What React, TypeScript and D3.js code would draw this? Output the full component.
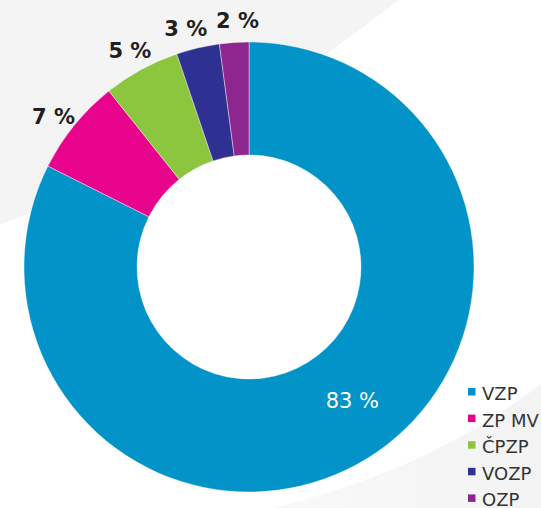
// App.tsx — donut of insurer shares (VZP and the smaller funds), drawn with D3.
import { useEffect, useRef } from "react";
import * as d3 from "d3";

const insurers = ["VZP", "ZP MV", "ČPZP", "VOZP", "OZP"];
const shares = [82.4, 6.9, 5.5, 3.1, 2.1];
const shareLabels = ["83 %", "7 %", "5 %", "3 %", "2 %"];
const colors = ["#0293c9", "#e8038c", "#8cc63f", "#2e3191", "#8d278f"];

export default function App() {
  const ref = useRef<SVGSVGElement | null>(null);

  useEffect(() => {
    const svg = d3.select(ref.current);
    svg.selectAll("*").remove();

    const width = 541;
    const height = 508;
    const cx = 249;
    const cy = 267;
    const outer = 225;
    const inner = 112;
    const font = "'DejaVu Sans', sans-serif";
    const deg = Math.PI / 180;
    // small angular nudges so the outside labels sit where the original has them
    const labelNudge = [-6, -1.4, -0.2, -1.7, 1.1];

    // soft grey background shapes
    const defs = svg.append("defs");
    const g1 = defs.append("linearGradient").attr("id", "bgTop").attr("x1", "0").attr("x2", "1").attr("y1", "0").attr("y2", "0");
    g1.append("stop").attr("offset", "0").attr("stop-color", "#f1f1f1");
    g1.append("stop").attr("offset", "1").attr("stop-color", "#f5f5f5");
    const g2 = defs.append("linearGradient").attr("id", "bgBot").attr("x1", "0").attr("x2", "1").attr("y1", "0").attr("y2", "0");
    g2.append("stop").attr("offset", "0").attr("stop-color", "#f9f9f9");
    g2.append("stop").attr("offset", "1").attr("stop-color", "#f3f3f3");

    svg.append("rect").attr("width", width).attr("height", height).attr("fill", "#fff");
    svg.append("circle").attr("cx", -518).attr("cy", -1162).attr("r", 1480).attr("fill", "url(#bgTop)");
    const wave = d3.path();
    wave.moveTo(273, height);
    wave.quadraticCurveTo(430, 470, width, 384);
    wave.lineTo(width, height);
    wave.closePath();
    svg.append("path").attr("d", wave.toString()).attr("fill", "url(#bgBot)");

    const data = insurers.map((name, i) => ({ name, value: shares[i], label: shareLabels[i], color: colors[i] }));
    const pie = d3.pie<any>().value((d) => d.value).sort(null);
    const arc = d3.arc<any>().innerRadius(inner).outerRadius(outer);
    const arcs = pie(data);
    const mid = (d: any, i: number) => (d.startAngle + d.endAngle) / 2 + labelNudge[i] * deg;

    const g = svg.append("g").attr("transform", `translate(${cx},${cy})`);
    g.selectAll("path").data(arcs).join("path")
      .attr("d", arc).attr("fill", (d) => d.data.color)
      .attr("stroke", "#fff").attr("stroke-width", 0.4);

    // outside labels for the small slices, inside label for the big one
    g.selectAll("text.out").data(arcs.slice(1)).join("text")
      .attr("class", "out")
      .attr("transform", (d, i) => `translate(${d3.pointRadial(mid(d, i + 1), 247)})`)
      .attr("text-anchor", "middle").attr("dy", "0.36em")
      .attr("font-family", font).attr("font-weight", "bold").attr("font-size", 21)
      .attr("fill", "#231f20").text((d) => d.data.label);

    const big = arcs[0];
    g.append("text")
      .attr("transform", `translate(${d3.pointRadial(mid(big, 0), 169)})`)
      .attr("text-anchor", "middle").attr("dy", "0.36em")
      .attr("font-family", font).attr("font-size", 21)
      .attr("fill", "#fff").text(big.data.label);

    // legend
    const legend = svg.append("g").attr("transform", "translate(468,400)");
    const row = legend.selectAll("g").data(data).join("g")
      .attr("transform", (d, i) => `translate(0,${i * 26.6})`);
    row.append("rect").attr("x", 0).attr("y", -12).attr("width", 7.5).attr("height", 7.5).attr("fill", (d) => d.color);
    row.append("text").attr("x", 14).attr("y", 0)
      .attr("font-family", font).attr("font-size", 18).attr("fill", "#333")
      .text((d) => d.name);
  }, []);

  return (
    <svg ref={ref} width={541} height={508} style={{ position: "absolute", left: 0, top: 0, display: "block" }} />
  );
}
